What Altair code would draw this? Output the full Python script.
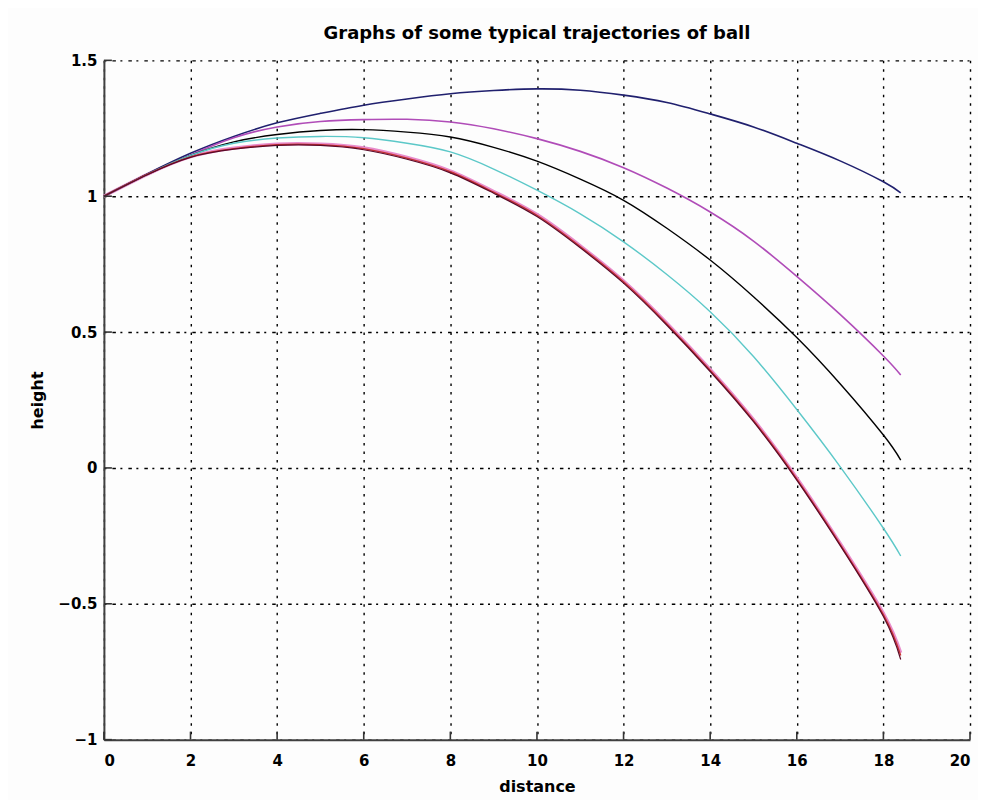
import altair as alt
import pandas as pd

# ---------------- data ----------------
x_vals = [0, 1, 2, 3, 4, 5, 6, 7, 8, 9, 10, 11, 12, 13, 14, 15, 16, 17, 18, 18.4]

navy_y = [1.00, 1.082, 1.158, 1.22, 1.27, 1.305, 1.335, 1.358, 1.377, 1.389, 1.395,
          1.39, 1.372, 1.345, 1.303, 1.255, 1.195, 1.13, 1.053, 1.012]
magenta_y = [1.00, 1.08, 1.152, 1.215, 1.255, 1.275, 1.282, 1.283, 1.273, 1.248, 1.212,
             1.165, 1.105, 1.03, 0.942, 0.835, 0.705, 0.565, 0.412, 0.342]
black_y = [1.00, 1.08, 1.15, 1.20, 1.227, 1.242, 1.245, 1.236, 1.218, 1.18, 1.129,
           1.063, 0.985, 0.882, 0.765, 0.63, 0.48, 0.31, 0.121, 0.029]
cyan_y = [1.00, 1.08, 1.15, 1.195, 1.214, 1.22, 1.215, 1.195, 1.163, 1.10, 1.022,
          0.935, 0.832, 0.712, 0.575, 0.41, 0.215, 0.005, -0.222, -0.324]
pink_y = [1.00, 1.08, 1.145, 1.177, 1.192, 1.192, 1.178, 1.143, 1.093, 1.018, 0.933,
          0.818, 0.688, 0.533, 0.363, 0.178, -0.037, -0.277, -0.535, -0.68]
red_y = [1.00, 1.08, 1.145, 1.175, 1.19, 1.19, 1.175, 1.14, 1.09, 1.015, 0.93,
         0.815, 0.685, 0.53, 0.36, 0.175, -0.04, -0.28, -0.54, -0.69]
maroon_y = [1.00, 1.079, 1.143, 1.173, 1.187, 1.187, 1.171, 1.136, 1.086, 1.011, 0.925,
            0.81, 0.68, 0.525, 0.355, 0.17, -0.045, -0.285, -0.547, -0.705]

series_names = ["pink", "navy", "magenta", "black", "cyan", "red", "maroon"]
series_data = [pink_y, navy_y, magenta_y, black_y, cyan_y, red_y, maroon_y]
series_colors = ["#e88ccc", "#20206e", "#b04cb8", "#000000", "#5cc8c8", "#c83232", "#5a0a28"]
series_widths = [3.2, 1.6, 1.6, 1.4, 1.4, 1.4, 1.2]

x_ticks = [0, 2, 4, 6, 8, 10, 12, 14, 16, 18, 20]
y_ticks = [-1, -0.5, 0, 0.5, 1, 1.5]

title_text = "Graphs of some typical trajectories of ball"
x_title = "distance"
y_title = "height"

rows = []
for order, (name, ys, w) in enumerate(zip(series_names, series_data, series_widths)):
    for x, y in zip(x_vals, ys):
        rows.append({"series": name, "x": x, "y": y, "w": w, "ord": order})
df = pd.DataFrame(rows)

W, H = 867, 680
FONT = "DejaVu Sans"

x_scale = alt.Scale(domain=[0, 20], nice=False, zero=False)
y_scale = alt.Scale(domain=[-1, 1.5], nice=False, zero=False)

axis_style = dict(grid=True, gridColor="#000000", gridWidth=1.4, gridOpacity=1, ticks=False,
                  domainColor="#404040", domainWidth=2,
                  labelFont=FONT, labelFontSize=15, labelFontWeight="bold", labelColor="#000000",
                  titleFont=FONT, titleFontSize=16, titleFontWeight="bold", titleColor="#000000")

x_axis = alt.Axis(values=x_ticks, title=x_title, gridDash=[2.5, 6],
                  labelPadding=14, titlePadding=10, format="d", **axis_style)
y_axis = alt.Axis(values=y_ticks, title=y_title, gridDash=[2, 6, 3.5, 4.5],
                  labelPadding=7, titlePadding=12, format="~g", **axis_style)

lines = alt.Chart(df).mark_line(interpolate="natural").encode(
    x=alt.X("x:Q", scale=x_scale, axis=x_axis),
    y=alt.Y("y:Q", scale=y_scale, axis=y_axis),
    color=alt.Color("series:N", scale=alt.Scale(domain=series_names, range=series_colors),
                    legend=None),
    strokeWidth=alt.StrokeWidth("w:Q", scale=None),
    detail="series:N",
    order=alt.Order("x:Q"),
)

xt = pd.DataFrame({"x": x_ticks})
yt = pd.DataFrame({"y": y_ticks})

x_tick_marks = alt.Chart(xt).mark_rule(color="#333333", strokeWidth=1.6).encode(
    x=alt.X("x:Q", scale=x_scale, axis=x_axis),
    y=alt.value(H),
    y2=alt.value(H - 8),
)
y_tick_marks = alt.Chart(yt).mark_rule(color="#333333", strokeWidth=1.6).encode(
    y=alt.Y("y:Q", scale=y_scale, axis=y_axis),
    x=alt.value(0),
    x2=alt.value(8),
)

chart = alt.layer(lines, x_tick_marks, y_tick_marks).properties(
    width=W, height=H,
    background="#fdfdfd",
    title=alt.TitleParams(title_text, font=FONT, fontSize=18, fontWeight="bold",
                          color="#000000", offset=10, anchor="middle"),
    autosize=alt.AutoSizeParams(type="none"),
    padding={"left": 96, "top": 52, "right": 8, "bottom": 60},
).configure_view(stroke=None)

chart.save("out.html", embed_options={"renderer": "svg", "actions": False})
